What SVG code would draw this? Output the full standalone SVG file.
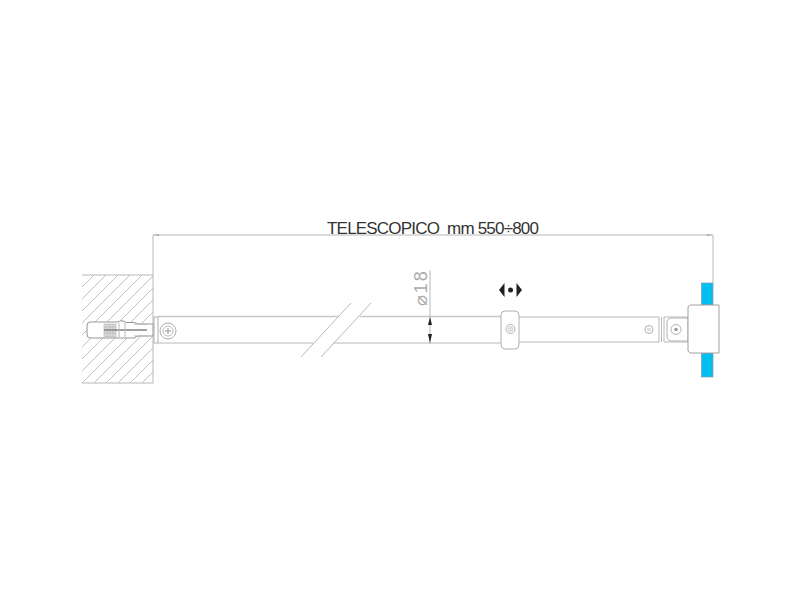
<svg xmlns="http://www.w3.org/2000/svg" width="800" height="600" viewBox="0 0 800 600">
<style>
.l{fill:none;stroke:#b8b8b8;stroke-width:1}
.t{fill:none;stroke:#c8c8c8;stroke-width:1.500}
.h{fill:none;stroke:#c4c4c4;stroke-width:1}
.w{fill:#fff;stroke:#b0b0b0;stroke-width:1}
.b{fill:#00c0f2;stroke:#7f9aa5;stroke-width:.7}
</style>
<rect width="800" height="600" fill="#fff"/>
<g id="wall">
<path class="h" d="M82 287L94 275M82 299L106 275M82 311L118 275M82 323L130 275M82 335L142 275M82 347L153 276M82 359L153 288M82 371L153 300M82 383L153 312M94 383L153 324M106 383L153 336M118 383L153 348M130 383L153 360M142 383L153 372"/>
<path class="l" d="M82 275H153V383H82"/>
</g>
<g id="anchor">
<path d="M90 322H118L120 321H124L126 322.500H134L138 324H153V336H138L134 338H90Q87 338 87 334V326Q87 322 90 322Z" fill="#fff" stroke="#969696"/>
<rect x="104" y="324" width="12" height="13" fill="#dcdcdc" stroke="#b0b0b0" stroke-width=".6"/>
<path d="M104 327H116M104 333H116M107 324V337M110 324V337M113 324V337" stroke="#a8a8a8" stroke-width=".5"/>
<path d="M104 330H147" stroke="#808080" stroke-width="1.600"/>
<path class="l" d="M119 323V337M125 323V337M134 324H147M134 336H147"/>
</g>
<g id="tube">
<rect x="154" y="317" width="4" height="26" class="w"/>
<path class="t" d="M158 316.500H338M360 316.500H501"/>
<path class="l" d="M158 343H313M333 343H501"/>
<circle cx="168" cy="331" r="8" class="w"/>
<circle cx="168" cy="331" r="5" class="l"/>
<path d="M168 328V334M165 331H171" stroke="#b4b4b4" stroke-width="1.500"/>
</g>
<g id="slider">
<path class="l" d="M519 317H659M519 342H659"/>
<rect x="501" y="311" width="18" height="38" rx="4" class="w"/>
<circle cx="510.500" cy="329" r="4.500" class="w"/>
<circle cx="510.500" cy="329" r="2.500" fill="#e2e2e2" stroke="#bbb" stroke-width=".5"/>
<circle cx="649" cy="329.500" r="4" class="w"/>
<circle cx="649" cy="329.500" r="2" fill="#ddd"/>
</g>
<g id="joint">
<path class="l" d="M659 317V342M664 317V342M661.500 317V342"/>
<path class="w" d="M688 318H672Q667 318 667 323V336Q667 341 672 341H688Z"/>
<path class="l" d="M664 317H688M664 342H688"/>
<circle cx="676" cy="329.500" r="5" class="w"/>
<circle cx="676" cy="329.500" r="1.800" fill="#999"/>
</g>
<g id="clamp">
<rect x="701.500" y="283" width="11.500" height="22" class="b"/>
<rect x="701.500" y="353" width="11.500" height="24" class="b"/>
<path d="M690 305H719V353H690L688 351V307Z" fill="#fff" stroke="#a0a0a0"/>
</g>
<g id="connectors">
<path class="l" d="M153 235V275M713 235V283M153 235H713"/>
<path d="M153 235L159 234V236ZM713 235L707 234V236Z" fill="#aaa"/>
<path class="l" d="M430 270V344"/>
<path d="M430 317L432 325H428ZM430 343L428 334H432Z" fill="#222"/>
<path class="l" d="M301 357L351 303M321 357L371 303"/>
</g>
<g id="move">
<path d="M499 290L504.500 283V297ZM522 290L516.500 283V297Z" fill="#222"/>
<circle cx="510.500" cy="290" r="2.500" fill="#222"/>
</g>
<g id="labels">
<text x="327" y="233.500" font-family="'Liberation Sans',Arial,sans-serif" font-size="17" fill="#333" textLength="212" lengthAdjust="spacing" xml:space="preserve">TELESCOPICO  mm 550÷800</text>
<text transform="translate(427 306) rotate(-90)" font-family="'Liberation Sans','DejaVu Sans',sans-serif" font-size="18" letter-spacing="2" fill="#aaa">⌀18</text>
</g>
</svg>
